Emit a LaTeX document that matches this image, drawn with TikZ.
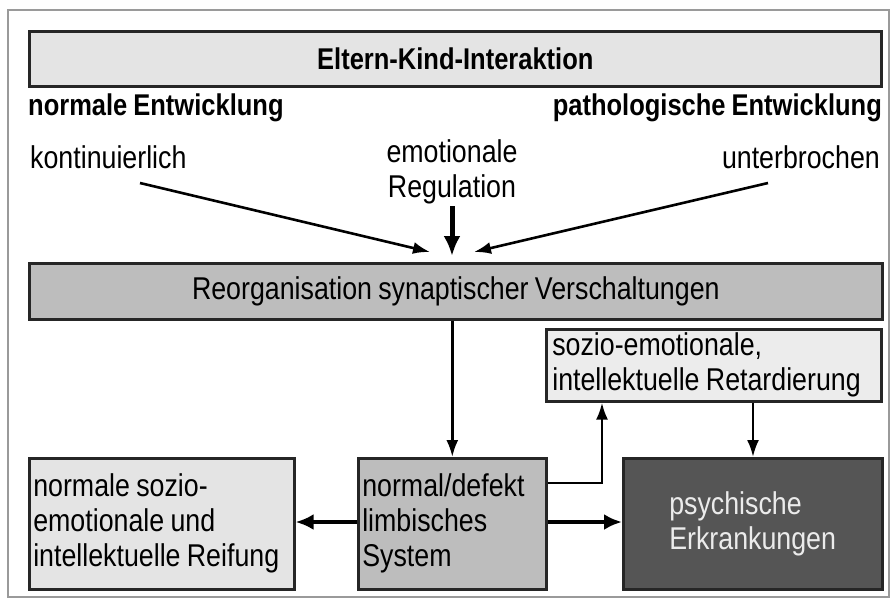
\documentclass[tikz,border=0pt]{standalone}
\usepackage{fontspec}
\setmainfont{Liberation Sans}[FakeStretch=0.85]
\usetikzlibrary{arrows.meta}
\definecolor{fillA}{HTML}{E4E4E4}
\definecolor{fillB}{HTML}{BDBDBD}
\definecolor{fillC}{HTML}{ECECEC}
\definecolor{fillD}{HTML}{555555}
\definecolor{frameC}{HTML}{9A9A9A}
\newcommand{\regfont}{\fontsize{31.5}{35}\selectfont}
\newcommand{\boldfont}{\fontsize{30}{35}\selectfont\bfseries}
\begin{document}
\begin{tikzpicture}[x=1pt,y=-1pt,
  every node/.style={font=\regfont, execute at begin node={\spaceskip=0.2em plus 0.05em minus 0.03em\relax}},
  box/.style={draw=black!85, line width=2.6pt, anchor=north west, inner sep=0pt},
  ln/.style={line width=2.6pt, -{Latex[length=17pt,width=12pt]}},
  thk/.style={line width=4pt, -{Latex[length=18pt,width=16pt]}}]
\useasboundingbox (0,0) rectangle (891,603);
\fill[white] (0,0) rectangle (891,603);
\draw[frameC, line width=2pt] (8,10) rectangle (889,597);
% top box
\node[box, fill=fillA, minimum width=852pt, minimum height=55pt] (eltern) at (28,30) {};
\node[font=\boldfont] (elternT) at (eltern.center) {Eltern-Kind-Interaktion};
\node[anchor=west, inner sep=0pt, font=\boldfont] (norm) at (28,108) {normale Entwicklung};
\node[anchor=east, inner sep=0pt, font=\boldfont] (path) at (882,108) {pathologische Entwicklung};
\node[anchor=west, inner sep=0pt] (kont) at (30,157) {kontinuierlich};
\node[anchor=east, inner sep=0pt] (unter) at (880,157) {unterbrochen};
\node[align=center, inner sep=0pt] (emo) at (452,172) {emotionale\\Regulation};
% reorganisation box
\node[box, fill=fillB, minimum width=853pt, minimum height=56pt] (reorg) at (28,262) {};
\node (reorgT) at (reorg.center) {Reorganisation synaptischer Verschaltungen};
% arrows into reorg
\coordinate (k1) at (140,183);
\coordinate (k2) at (430,252);
\coordinate (u1) at (768,183);
\coordinate (u2) at (474,252);
\coordinate (e2) at (452,256);
\draw[ln] (k1) -- (k2);
\draw[ln] (u1) -- (u2);
\draw[line width=5pt, -{Latex[length=20pt,width=17pt]}] (emo.south |- 0,206) -- (e2);
% retardierung box
\node[box, fill=fillC, minimum width=335pt, minimum height=72pt, text width=323pt, align=left, inner xsep=6pt] (retard) at (545,328) {sozio-emotionale,\\intellektuelle Retardierung};
% bottom boxes
\node[box, fill=fillA, minimum width=265pt, minimum height=131pt, text width=257pt, align=left, inner xsep=4pt] (reif) at (28,457) {normale sozio-\\emotionale und\\intellektuelle Reifung};
\node[box, fill=fillB, minimum width=188pt, minimum height=131pt, text width=180pt, align=left, inner xsep=4pt] (limb) at (357,457) {normal/defekt\\limbisches\\System};
\node[box, fill=fillD, minimum width=259pt, minimum height=131pt, text width=211pt, align=left, inner xsep=0pt, text=white!92!black] (psych) at (622,457) {\hspace*{22pt}psychische\\\hspace*{22pt}Erkrankungen};
% connectors
\draw[ln] (reorg.south -| limb.north) -- (limb.north);
\coordinate (bend) at (602,483);
\draw[ln] (limb.east |- bend) -- (bend) -- (bend |- retard.south);
\draw[thk] (limb.east |- 0,522) -- (psych.west |- 0,522);
\draw[thk] (limb.west |- 0,522) -- (reif.east |- 0,522);
\draw[ln] (retard.south -| 753,0) -- (psych.north -| 753,0);
\end{tikzpicture}
\end{document}
